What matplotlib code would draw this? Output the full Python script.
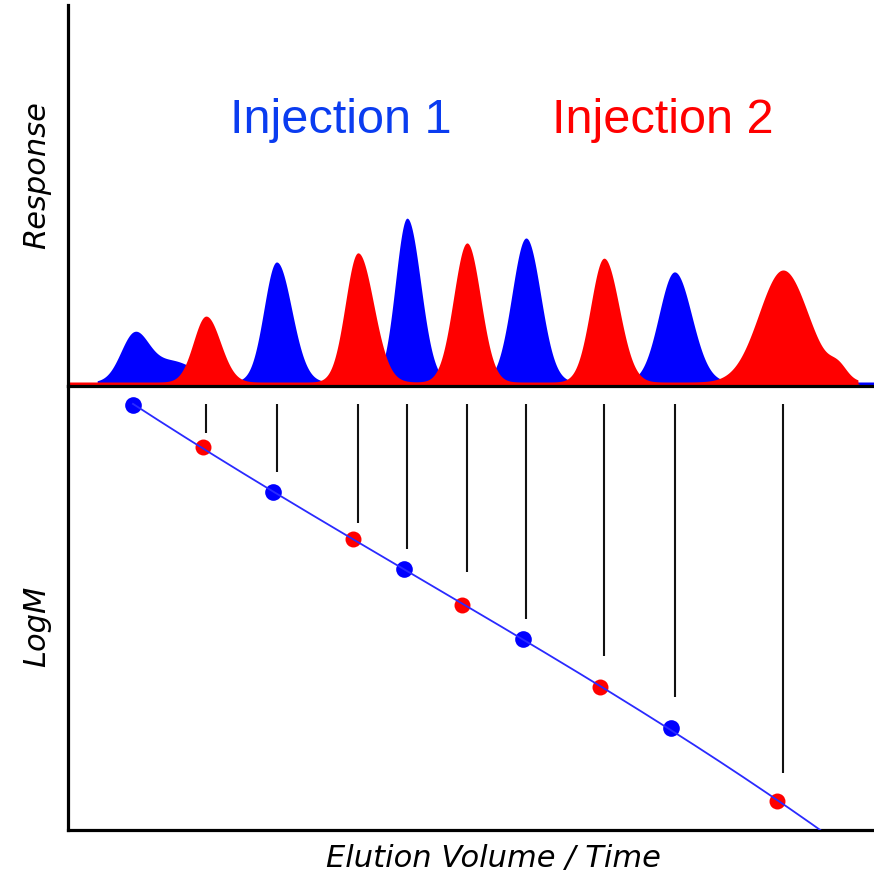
import numpy as np
import matplotlib
matplotlib.use("Agg")
import matplotlib.pyplot as plt

# --- Chromatogram peaks: apex volume, height, left / right widths ---
blue_centers = [6.55, 10.32, 20.70, 33.65, 45.46, 60.20]
blue_heights = [11.8, 5.5, 31.5, 43.0, 37.8, 28.9]
blue_sig_left = [1.35, 2.30, 1.25, 1.15, 1.40, 1.55]
blue_sig_right = [1.40, 2.30, 1.50, 1.35, 1.45, 1.70]

red_centers = [13.70, 28.78, 39.60, 53.20, 70.97, 76.43]
red_heights = [17.3, 33.9, 36.5, 32.5, 29.4, 3.1]
red_sig_left = [1.25, 1.25, 1.33, 1.33, 2.40, 0.85]
red_sig_right = [1.42, 1.55, 1.35, 1.50, 2.50, 0.85]

baseline_level = 1.05
blue_trace_range = (2.9, 80.0)
red_trace_range = (0.0, 78.4)

# --- Calibration points (elution volume, log M) ---
blue_cal_x = [6.45, 20.35, 33.35, 45.16, 59.85]
blue_cal_logm = [6.79, 5.81, 4.94, 4.15, 3.15]
red_cal_x = [13.40, 28.29, 39.11, 52.80, 70.37]
red_cal_logm = [6.31, 5.28, 4.53, 3.61, 2.33]

# Drop lines from each peak apex (skipping the first, which sits at the top)
drop_x = [13.70, 20.70, 28.78, 33.65, 39.60, 45.46, 53.20, 60.20, 70.97]
drop_top = 6.80
drop_bottom = [6.47, 6.03, 5.46, 5.16, 4.91, 4.38, 3.96, 3.50, 2.64]

BLUE = "#0000ff"
RED = "#ff0000"


def bigauss(x, c, h, sl, sr):
    s = np.where(x < c, sl, sr)
    return h * np.exp(-0.5 * ((x - c) / s) ** 2)


def trace(x, centers, heights, sl, sr, xr):
    y = np.where((x >= xr[0]) & (x <= xr[1]), baseline_level, 0.0)
    for c, h, a, b in zip(centers, heights, sl, sr):
        y = y + bigauss(x, c, h, a, b)
    return y


x = np.linspace(0, 80, 4000)
blue_y = trace(x, blue_centers, blue_heights, blue_sig_left, blue_sig_right, blue_trace_range)
red_y = trace(x, red_centers, red_heights, red_sig_left, red_sig_right, red_trace_range)

fig = plt.figure(figsize=(8.74, 8.75), dpi=100)
L, W = 68 / 874, 806 / 874
ax_top = fig.add_axes([L, (875 - 386) / 875, W, (386 - 5) / 875])
ax_bot = fig.add_axes([L, (875 - 830) / 875, W, (830 - 386) / 875])

for ax in (ax_top, ax_bot):
    ax.set_xlim(0, 80)
    ax.set_xticks([])
    ax.set_yticks([])
    for side in ("top", "right"):
        ax.spines[side].set_visible(False)
    for side in ("left", "bottom"):
        ax.spines[side].set_linewidth(2.3)
        ax.spines[side].set_color("black")
    ax.patch.set_alpha(0)

# Response panel
ax_top.set_ylim(0, 100)
ax_top.fill_between(x, 0, blue_y, color=BLUE, lw=0)
ax_top.fill_between(x, 0, red_y, color=RED, lw=0)

# Calibration panel
ax_bot.set_ylim(2, 7)
ax_bot.vlines(drop_x, drop_bottom, drop_top, color="#111111", lw=1.5)
all_x = np.array(blue_cal_x + red_cal_x)
all_y = np.array(blue_cal_logm + red_cal_logm)
coef = np.polyfit(all_x, all_y, 3)
xf = np.linspace(min(all_x), 80, 500)
ax_bot.plot(blue_cal_x, blue_cal_logm, "o", color=BLUE, ms=12, mec="none", zorder=3)
ax_bot.plot(red_cal_x, red_cal_logm, "o", color=RED, ms=11.5, mec="none", zorder=3)
ax_bot.plot(xf, np.polyval(coef, xf), color="#2a2aff", lw=1.3, zorder=4)

# Text
fig.text(341 / 874, 1 - 133 / 875, "Injection 1", color="#0a3cf0",
         family="Liberation Sans", fontsize=35, ha="center", va="baseline")
fig.text(663 / 874, 1 - 133 / 875, "Injection 2", color=RED,
         family="Liberation Sans", fontsize=35, ha="center", va="baseline")
fig.text(37 / 874, 1 - 175 / 875, "Response", rotation=90, style="italic",
         family="DejaVu Sans", fontsize=22, ha="center", va="center")
fig.text(37 / 874, 1 - 626 / 875, "LogM", rotation=90, style="italic",
         family="DejaVu Sans", fontsize=22, ha="center", va="center")
fig.text(493 / 874, 1 - 858 / 875, "Elution Volume / Time", style="italic",
         family="DejaVu Sans", fontsize=22, ha="center", va="center")

fig.savefig("out.png", dpi=100)
